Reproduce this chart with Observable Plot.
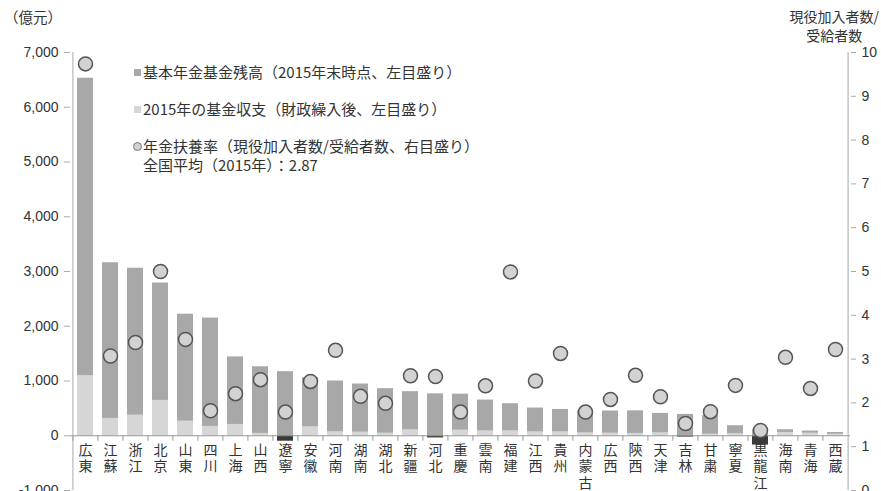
<!DOCTYPE html>
<html><head><meta charset="utf-8">
<script src="https://cdn.jsdelivr.net/npm/d3@7"></script>
<script src="https://cdn.jsdelivr.net/npm/@observablehq/plot@0.6"></script>
<style>
body{margin:0;background:#fff;font-family:"Noto Sans CJK JP",sans-serif;}
#wrap{position:relative;width:881px;height:491px;overflow:hidden;}
.t{position:absolute;color:#333;white-space:nowrap;line-height:1;}
.leg{font-size:15px;}
.sq{position:absolute;width:7px;height:7px;}
.ci{position:absolute;width:9px;height:9px;border-radius:50%;background:#d0d0d0;border:1px solid #777;box-sizing:border-box;}
</style></head><body><div id="wrap"></div>
<script>
const provinces = ["広東","江蘇","浙江","北京","山東","四川","上海","山西","遼寧","安徽","河南","湖南","湖北","新疆","河北","重慶","雲南","福建","江西","貴州","内蒙古","広西","陝西","天津","吉林","甘粛","寧夏","黒龍江","海南","青海","西蔵"];
const fundBalance = [6530,3160,3060,2790,2220,2150,1440,1260,1170,1060,1000,945,860,805,765,760,652,585,506,481,458,452,455,408,390,366,183,110,110,86,60];
const fundIncome = [1100,317,378,646,268,171,207,43,-100,165,75,67,49,110,-40,104,91,91,73,73,55,49,43,55,-25,30,40,-170,60,49,30];
const supportRatio = [9.74,3.07,3.38,5.0,3.45,1.82,2.21,2.53,1.79,2.49,3.2,2.15,1.99,2.62,2.6,1.79,2.39,4.99,2.5,3.13,1.79,2.08,2.63,2.14,1.53,1.8,2.4,1.37,3.04,2.33,3.22];
const leftTicks = [-1000,0,1000,2000,3000,4000,5000,6000,7000];
const rightTicks = [0,1,2,3,4,5,6,7,8,9,10];
const legendItems = [
  "基本年金基金残高（2015年末時点、左目盛り）",
  "2015年の基金収支（財政繰入後、左目盛り）",
  "年金扶養率（現役加入者数/受給者数、右目盛り）",
  "全国平均（2015年）：2.87"
];

const toLeft = r => -1000 + r * 800;
const rows = provinces.map((p, i) => ({
  p, label: [...p].join("\n"),
  fund: fundBalance[i], inc: fundIncome[i], ratio: supportRatio[i]
}));

const W = 881, mL = 70, mR = 31;
const step = (W - mL - mR) / provinces.length;

const chart = Plot.plot({
  width: W, height: 491,
  marginTop: 52, marginBottom: 1, marginLeft: mL, marginRight: mR,
  x: {domain: provinces, paddingInner: 0.35, paddingOuter: 0.175, axis: null},
  y: {domain: [-1000, 7000], axis: null},
  style: {fontFamily: "'Liberation Sans', Arial, sans-serif", fontSize: "14px", background: "#fff"},
  marks: [
    Plot.barY(rows, {x: "p", y: "fund", fill: "#a8a8a8", ariaLabel: "fund"}),
    Plot.barY(rows.filter(d => d.inc > 0), {x: "p", y: "inc", fill: "#d6d6d6", ariaLabel: "inc"}),
    Plot.barY(rows.filter(d => d.inc < 0), {x: "p", y: "inc", fill: "#3a3a3a", ariaLabel: "neg"}),
    Plot.ruleY([0], {stroke: "#999"}),
    Plot.ruleX(provinces, {x: d => d, y1: 0, y2: -100, dx: -step / 2, stroke: "#999"}),
    Plot.ruleX([provinces[0]], {x: d => d, dx: -step / 2, stroke: "#aaa"}),
    Plot.ruleX([provinces[provinces.length - 1]], {x: d => d, dx: step / 2, stroke: "#aaa"}),
    Plot.axisY(leftTicks, {anchor: "left", tickSize: 6, tickPadding: 6, stroke: "#aaa", fill: "#333",
      tickFormat: d => d3.format(",")(d).replace("−", "-"), label: null}),
    Plot.axisY(rightTicks.map(toLeft), {anchor: "right", tickSize: 5, tickPadding: 6, stroke: "#aaa", fill: "#333",
      tickFormat: d => String(Math.round((d + 1000) / 800)), label: null}),
    Plot.text(rows, {x: "p", y: 0, text: "label", lineAnchor: "top", dy: 7, fontSize: 14, lineHeight: 1.2,
      fontFamily: "'Noto Sans CJK JP', sans-serif", fill: "#333"}),
    Plot.dot(rows, {x: "p", y: d => toLeft(d.ratio), r: 7, fill: "#d2d2d2", stroke: "#555", strokeWidth: 1.5, ariaLabel: "ratio"})
  ]
});

// shadows
const svg = d3.select(chart);
const defs = svg.insert("defs", ":first-child");
defs.append("filter").attr("id", "shBar").attr("x", "-20%").attr("y", "-5%").attr("width", "160%").attr("height", "120%")
  .append("feDropShadow").attr("dx", 3).attr("dy", 2).attr("stdDeviation", 1.2).attr("flood-color", "#000").attr("flood-opacity", 0.35);
defs.append("filter").attr("id", "shDot").attr("x", "-50%").attr("y", "-50%").attr("width", "220%").attr("height", "220%")
  .append("feDropShadow").attr("dx", 2.5).attr("dy", 3).attr("stdDeviation", 1.6).attr("flood-color", "#000").attr("flood-opacity", 0.45);
svg.selectAll('g[aria-label="fund"] rect, g[aria-label="neg"] rect').attr("filter", "url(#shBar)");
svg.selectAll('g[aria-label="ratio"] circle').attr("filter", "url(#shDot)");

const wrap = document.getElementById("wrap");
wrap.appendChild(chart);

function addText(txt, cls, style) {
  const d = document.createElement("div");
  d.className = "t " + cls;
  d.textContent = txt;
  Object.assign(d.style, style);
  wrap.appendChild(d);
  return d;
}
addText("（億元）", "", {left: "4px", top: "10px", fontSize: "14.5px"});
addText("現役加入者数/\n受給者数", "", {right: "2px", top: "7px", fontSize: "14px", lineHeight: "19px", textAlign: "center", whiteSpace: "pre"});

const legTops = [64, 101, 138, 157];
legendItems.forEach((s, i) => addText(s, "leg", {left: "143px", top: legTops[i] + "px"}));
const sq1 = document.createElement("div"); sq1.className = "sq";
Object.assign(sq1.style, {left: "134px", top: "69px", background: "#a8a8a8"}); wrap.appendChild(sq1);
const sq2 = document.createElement("div"); sq2.className = "sq";
Object.assign(sq2.style, {left: "134px", top: "106px", background: "#d6d6d6"}); wrap.appendChild(sq2);
const ci = document.createElement("div"); ci.className = "ci";
Object.assign(ci.style, {left: "133px", top: "142px"}); wrap.appendChild(ci);
</script>
</body></html>
